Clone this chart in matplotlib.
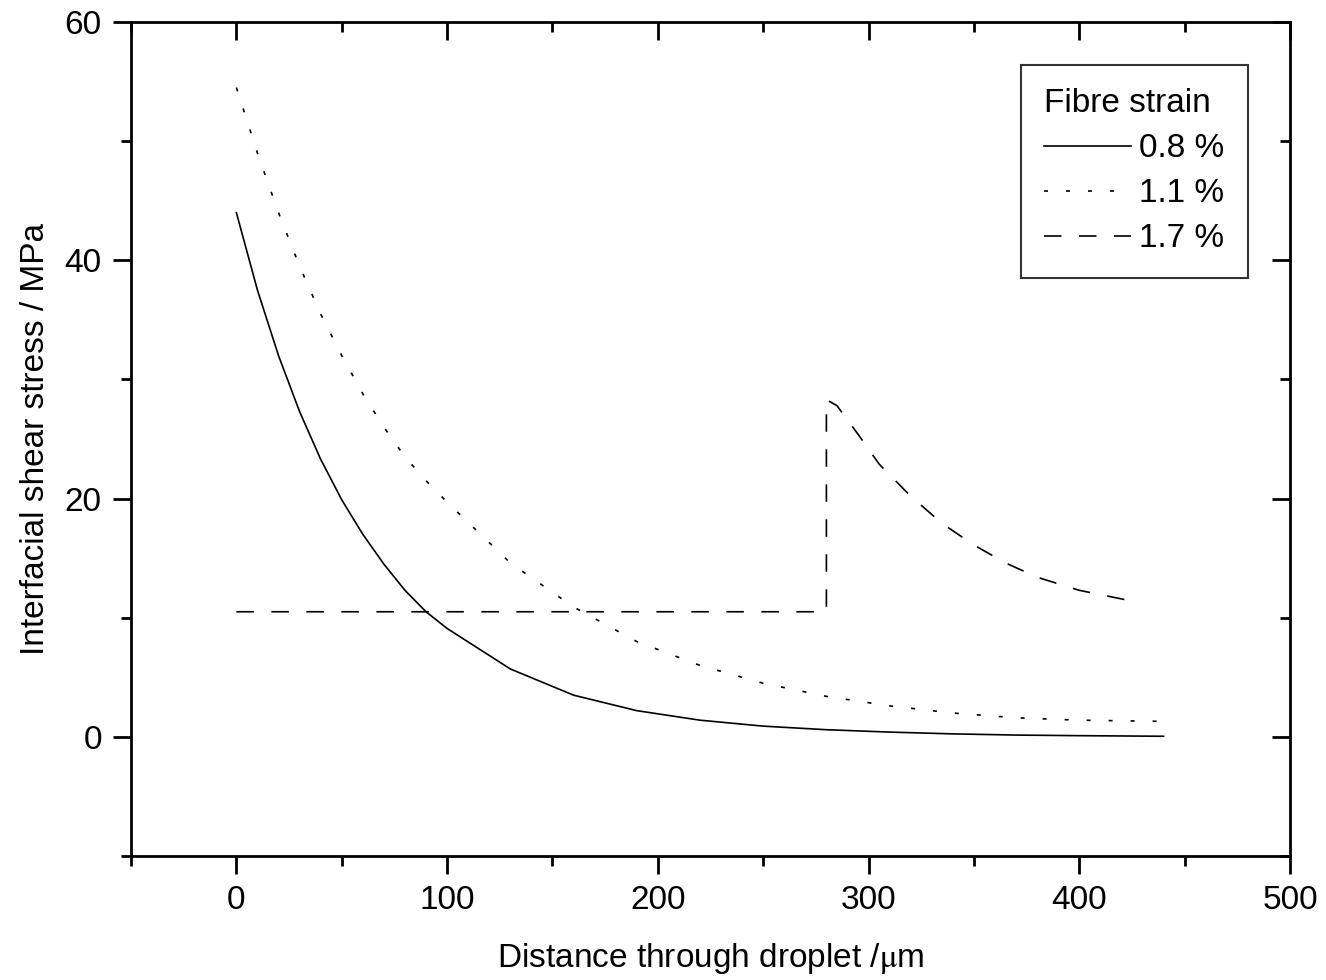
import matplotlib.pyplot as plt
from matplotlib.ticker import MultipleLocator

plt.rcParams['font.family'] = ['Liberation Sans', 'DejaVu Sans']
plt.rcParams['mathtext.fontset'] = 'stix'

# 0.8 % fibre strain
x_08 = [0, 10, 20, 30, 40, 50, 60, 70, 80, 90, 100, 130, 160, 190, 220, 250, 280, 310, 340, 370, 400, 440]
y_08 = [44.0, 37.5, 32.0, 27.3, 23.3, 19.9, 17.0, 14.5, 12.3, 10.5, 9.1, 5.7, 3.5, 2.2, 1.4, 0.9, 0.6, 0.4, 0.25, 0.15, 0.1, 0.05]

# 1.1 % fibre strain
x_11 = [0, 10, 20, 30, 40, 50, 60, 70, 80, 90, 100, 130, 160, 190, 220, 250, 280, 310, 340, 370, 400, 440]
y_11 = [54.5, 49.0, 44.0, 39.5, 35.5, 32.0, 28.8, 26.0, 23.5, 21.5, 19.7, 14.6, 10.9, 8.0, 6.0, 4.5, 3.4, 2.6, 2.0, 1.6, 1.4, 1.3]

# 1.7 % fibre strain
x_17 = [0, 280, 280, 285, 295, 305, 320, 335, 350, 365, 380, 400, 425]
y_17 = [10.5, 10.5, 28.3, 27.8, 25.4, 22.9, 20.2, 17.9, 16.1, 14.6, 13.4, 12.3, 11.4]

FS = 24

fig = plt.figure(figsize=(13.26, 9.8), dpi=100)
ax = fig.add_axes([131/1326, 1 - 856/980, (1290-131)/1326, (856-22)/980])

lw = 1.2
ax.plot(x_08, y_08, color="black", lw=lw, label="0.8 %")
ax.plot(x_11, y_11, color="black", lw=lw, linestyle=(0, (2.4, 10.8)), label="1.1 %")
ax.plot(x_17, y_17, color="black", lw=lw, linestyle=(0, (10.5, 10.5)), label="1.7 %")

ax.set_xlim(-50, 500)
ax.set_ylim(-10, 60)
ax.xaxis.set_major_locator(MultipleLocator(100))
ax.xaxis.set_minor_locator(MultipleLocator(50))
ax.yaxis.set_major_locator(MultipleLocator(20))
ax.yaxis.set_minor_locator(MultipleLocator(10))

for s in ax.spines.values():
    s.set_linewidth(2)

ax.tick_params(which="both", direction="out", width=2, labelsize=FS, pad=8)
ax.tick_params(which="major", length=13)
ax.tick_params(which="minor", length=7.5)
# mirrored ticks on top/right point inwards
ax.tick_params(which="both", top=True, right=True)
for t in ax.xaxis.get_major_ticks() + ax.xaxis.get_minor_ticks():
    t.tick2line.set_marker(3)
for t in ax.yaxis.get_major_ticks() + ax.yaxis.get_minor_ticks():
    t.tick2line.set_marker(0)

ax.set_xlabel(r"Distance through droplet /$\mathrm{\mu}$m", fontsize=FS, labelpad=18)
ax.set_ylabel("Interfacial shear stress / MPa", fontsize=FS, labelpad=10)

leg = ax.legend(title="Fibre strain", loc="upper right", bbox_to_anchor=(0.9637, 0.9484),
                borderaxespad=0, fontsize=FS, title_fontsize=FS, frameon=True,
                fancybox=False, edgecolor="black", handlelength=2.6, handletextpad=0.25,
                borderpad=0.7, labelspacing=0.42, alignment="left")
leg.get_frame().set_linewidth(1.5)

fig.savefig("out.png", dpi=100)
